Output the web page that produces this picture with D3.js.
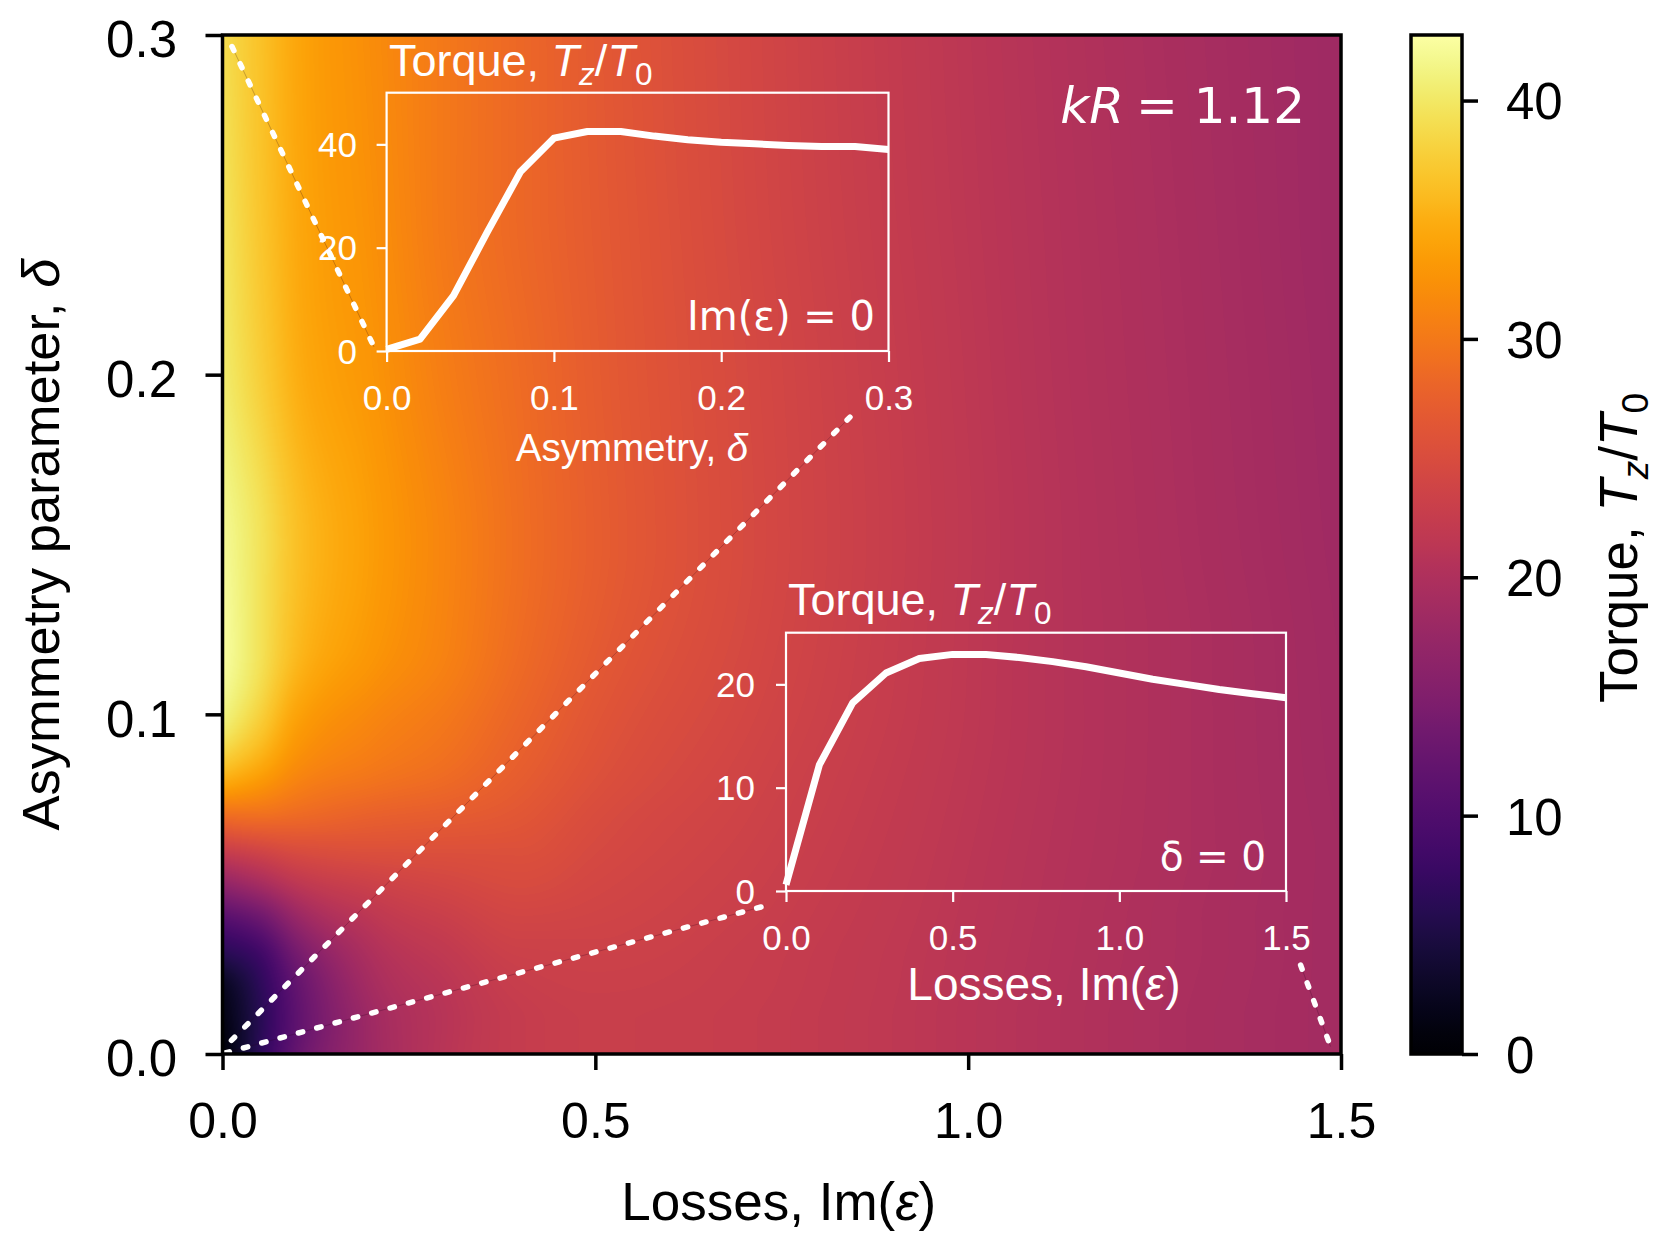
<!DOCTYPE html>
<html><head><meta charset="utf-8">
<script src="https://cdn.jsdelivr.net/npm/d3@7"></script>
<style>body{margin:0;background:#fff}svg{display:block}</style>
</head><body>
<script>
// ---------------- DATA ----------------
// Heat map grid: torque T_z/T_0 on losses Im(eps) (columns) x asymmetry delta (rows)
const imEps  = [0, 0.05, 0.1, 0.2, 0.3, 0.4, 0.5, 0.7, 0.9, 1.1, 1.3, 1.5];
const deltas = [0, 0.01, 0.02, 0.03, 0.04, 0.05, 0.06, 0.07, 0.08, 0.10, 0.12, 0.15, 0.20, 0.25, 0.30];
const torqueGrid = [
  [ 0.3,  6.4, 12.2, 18.2, 21.1, 22.5, 22.9, 22.6, 21.7,  20.5,  19.5, 18.7],
  [ 1.2,  6.0, 11.5, 18.3, 21.0, 22.5, 22.9, 22.6, 21.7,  20.5,  19.5, 18.7],
  [ 2.3,  6.5, 12.0, 19.0, 21.3, 22.8, 23.1, 22.7, 21.75, 20.55, 19.55, 18.7],
  [ 6.2,  8.5, 14.0, 20.0, 22.0, 23.3, 23.4, 22.8, 21.8,  20.6,  19.6, 18.7],
  [10.7, 13.0, 17.5, 21.5, 23.0, 24.0, 23.8, 23.0, 21.9,  20.65, 19.6, 18.7],
  [16.8, 19.0, 21.5, 23.3, 24.2, 24.8, 24.2, 23.2, 22.0,  20.7,  19.65, 18.7],
  [22.9, 24.0, 25.0, 25.5, 25.5, 25.5, 24.6, 23.4, 22.1,  20.75, 19.7, 18.7],
  [28.8, 29.0, 28.5, 27.5, 27.0, 26.3, 25.0, 23.6, 22.2,  20.8,  19.7, 18.65],
  [34.7, 33.0, 31.0, 29.5, 28.5, 27.0, 25.5, 23.8, 22.3,  20.85, 19.7, 18.6],
  [41.2, 38.0, 34.0, 31.5, 30.0, 28.0, 26.2, 24.2, 22.5,  20.9,  19.7, 18.55],
  [42.5, 39.5, 36.0, 33.0, 31.0, 28.7, 26.8, 24.5, 22.6,  20.9,  19.7, 18.5],
  [42.0, 39.5, 36.5, 33.5, 31.2, 29.0, 27.2, 24.7, 22.7,  20.9,  19.6, 18.4],
  [40.4, 37.8, 35.0, 32.8, 30.5, 28.7, 27.0, 24.6, 22.6,  20.8,  19.5, 18.3],
  [39.7, 37.0, 34.5, 32.3, 30.0, 28.3, 26.8, 24.4, 22.4,  20.7,  19.4, 18.2],
  [39.0, 36.7, 34.3, 32.0, 30.0, 28.3, 26.7, 24.3, 22.3,  20.6,  19.3, 18.2]
];
const colorMax = 42.75;

// Inset 1: Im(eps) = 0, torque vs asymmetry delta
const inset1Delta  = [0, 0.02, 0.04, 0.06, 0.08, 0.10, 0.12, 0.14, 0.16, 0.18, 0.20, 0.22, 0.24, 0.26, 0.28, 0.30];
const inset1Torque = [0.3, 2.3, 10.7, 22.9, 34.7, 41.2, 42.5, 42.5, 41.6, 40.9, 40.4, 40.1, 39.8, 39.6, 39.6, 39.0];

// Inset 2: delta = 0, torque vs losses Im(eps)
const inset2Loss   = [0, 0.1, 0.2, 0.3, 0.4, 0.5, 0.6, 0.7, 0.8, 0.9, 1.0, 1.1, 1.2, 1.3, 1.4, 1.5];
const inset2Torque = [0.6, 12.2, 18.2, 21.1, 22.5, 22.9, 22.9, 22.6, 22.2, 21.7, 21.1, 20.5, 20.0, 19.5, 19.1, 18.7];

// Tick labels
const mainXTicks = [0, 0.5, 1.0, 1.5];
const mainYTicks = [0, 0.1, 0.2, 0.3];
const cbarTicks  = [0, 10, 20, 30, 40];
const in1XTicks  = [0, 0.1, 0.2, 0.3];
const in1YTicks  = [0, 20, 40];
const in2XTicks  = [0, 0.5, 1.0, 1.5];
const in2YTicks  = [0, 10, 20];

// Dotted guide lines (main-plot data coords: [Im(eps), delta])
const guideLines = [
  [[0.0127, 0.2966], [0.2031, 0.2082]],
  [[0.0120, 0.0040], [0.8415, 0.1875]],
  [[0.0034, 0.0003], [0.7275, 0.0436]],
  [[1.4458, 0.0262], [1.4860, 0.0022]]
];

// ---------------- LAYOUT ----------------
const W = 1661, H = 1238;
const SANS = "'Liberation Sans', Arial, Helvetica, sans-serif";
const MATH = "'DejaVu Sans', sans-serif";
const P = {left: 222.5, right: 1341, top: 35, bottom: 1054};
const CB = {left: 1411, right: 1462};
const I1 = {left: 386.6, right: 888.5, top: 92.7, bottom: 351};
const I2 = {left: 786, right: 1286, top: 632.7, bottom: 891};

const svg = d3.select("body").append("svg").attr("width", W).attr("height", H)
  .style("font-family", SANS);

const x = d3.scaleLinear().domain([0, 1.5]).range([P.left, P.right]);
const y = d3.scaleLinear().domain([0, 0.3]).range([P.bottom, P.top]);
const color = d3.scaleSequential(d3.interpolateInferno).domain([0, colorMax]);

// monotone cubic interpolation (Steffen-style, like d3.curveMonotoneX)
function spline(xs, ys) {
  const n = xs.length, h = [], s = [], m = new Array(n);
  for (let i = 0; i < n - 1; i++) { h[i] = xs[i+1] - xs[i]; s[i] = (ys[i+1] - ys[i]) / h[i]; }
  for (let i = 1; i < n - 1; i++) {
    const p = (s[i-1] * h[i] + s[i] * h[i-1]) / (h[i-1] + h[i]);
    m[i] = (Math.sign(s[i-1]) + Math.sign(s[i])) *
           Math.min(Math.abs(s[i-1]), Math.abs(s[i]), 0.5 * Math.abs(p)) || 0;
  }
  m[0] = (3 * s[0] - m[1]) / 2;
  m[n-1] = (3 * s[n-2] - m[n-2]) / 2;
  return function(t) {
    let i = d3.bisectRight(xs, t) - 1;
    if (i < 0) i = 0; if (i > n - 2) i = n - 2;
    const hh = h[i], u = (t - xs[i]) / hh, u2 = u * u, u3 = u2 * u;
    return (2*u3 - 3*u2 + 1) * ys[i] + (u3 - 2*u2 + u) * hh * m[i] +
           (-2*u3 + 3*u2) * ys[i+1] + (u3 - u2) * hh * m[i+1];
  };
}

// ---------------- HEATMAP ----------------
(function drawHeat() {
  const cw = Math.round(P.right - P.left), ch = Math.round(P.bottom - P.top);
  const canvas = document.createElement("canvas");
  canvas.width = cw; canvas.height = ch;
  const ctx = canvas.getContext("2d");
  const img = ctx.createImageData(cw, ch);
  const NL = 2048;
  const lut = d3.range(NL).map(i => d3.rgb(color(i / (NL - 1) * colorMax)));
  const colF = imEps.map((_, j) => spline(deltas, torqueGrid.map(r => r[j])));
  const sx = (P.right - P.left) / cw, sy = (P.bottom - P.top) / ch;
  for (let py = 0; py < ch; py++) {
    const d = y.invert(P.top + (py + 0.5) * sy);
    const rowF = spline(imEps, colF.map(f => f(d)));
    for (let px = 0; px < cw; px++) {
      const e = x.invert(P.left + (px + 0.5) * sx);
      let v = rowF(e);
      let k = Math.round(v / colorMax * (NL - 1));
      k = Math.max(0, Math.min(NL - 1, k));
      const c = lut[k], o = (py * cw + px) * 4;
      img.data[o] = c.r; img.data[o+1] = c.g; img.data[o+2] = c.b; img.data[o+3] = 255;
    }
  }
  ctx.putImageData(img, 0, 0);
  svg.append("image").attr("href", canvas.toDataURL())
    .attr("x", P.left).attr("y", P.top)
    .attr("width", P.right - P.left).attr("height", P.bottom - P.top)
    .attr("preserveAspectRatio", "none");
})();

// ---------------- GUIDE LINES ----------------
const gl = svg.append("g");
guideLines.forEach(l => {
  gl.append("line").attr("x1", x(l[0][0])).attr("y1", y(l[0][1]))
    .attr("x2", x(l[1][0])).attr("y2", y(l[1][1]))
    .attr("stroke", "rgba(40,0,30,0.35)").attr("stroke-width", 0.7);
  gl.append("line").attr("x1", x(l[0][0])).attr("y1", y(l[0][1]))
    .attr("x2", x(l[1][0])).attr("y2", y(l[1][1]))
    .attr("stroke", "#fff").attr("stroke-width", 5.5)
    .attr("stroke-linecap", "round").attr("stroke-dasharray", "4.5,14.5");
});

// ---------------- MAIN AXES ----------------
function styleAxis(g, col, fs, sw) {
  g.select(".domain").remove();
  g.selectAll(".tick line").attr("stroke", col).attr("stroke-width", sw);
  g.selectAll(".tick text").attr("fill", col).attr("font-size", fs).attr("font-family", SANS);
}
const fmt1 = d3.format(".1f");
const gx = svg.append("g").attr("transform", `translate(0,${P.bottom})`)
  .call(d3.axisBottom(x).tickValues(mainXTicks).tickFormat(fmt1).tickSize(16).tickPadding(32.5));
styleAxis(gx, "#000", 50, 3.5);
const gy = svg.append("g").attr("transform", `translate(${P.left},0)`)
  .call(d3.axisLeft(y).tickValues(mainYTicks).tickFormat(fmt1).tickSize(17).tickPadding(28.5));
styleAxis(gy, "#000", 51, 3.5);
gy.selectAll(".tick text").attr("dy", "0.43em");

svg.append("rect").attr("x", P.left).attr("y", P.top)
  .attr("width", P.right - P.left).attr("height", P.bottom - P.top)
  .attr("fill", "none").attr("stroke", "#000").attr("stroke-width", 3.5);

// axis titles
const xt = svg.append("text").attr("x", (P.left + P.right) / 2 - 3).attr("y", 1220)
  .attr("text-anchor", "middle").attr("font-size", 53);
xt.append("tspan").text("Losses, Im(");
xt.append("tspan").attr("font-style", "italic").text("ε");
xt.append("tspan").text(")");

const yt = svg.append("text").attr("transform", `translate(59,${(P.top + P.bottom) / 2}) rotate(-90)`)
  .attr("text-anchor", "middle").attr("font-size", 52.5);
yt.append("tspan").text("Asymmetry parameter, ");
yt.append("tspan").attr("font-style", "italic").text("δ");

// torque label helper
function torqueLabel(t, fs) {
  t.append("tspan").text("Torque, ");
  t.append("tspan").attr("font-style", "italic").text("T");
  t.append("tspan").attr("font-style", "italic").attr("font-size", fs * 0.7).attr("dy", fs * 0.2).text("z");
  t.append("tspan").attr("dy", -fs * 0.2).text("/");
  t.append("tspan").attr("font-style", "italic").text("T");
  t.append("tspan").attr("font-size", fs * 0.7).attr("dy", fs * 0.2).text("0");
}

// ---------------- COLORBAR ----------------
const cy = d3.scaleLinear().domain([0, colorMax]).range([P.bottom, P.top]);
const defs = svg.append("defs");
const grad = defs.append("linearGradient").attr("id", "cbgrad")
  .attr("x1", 0).attr("y1", 1).attr("x2", 0).attr("y2", 0);
d3.range(0, 1.0001, 0.02).forEach(t => {
  grad.append("stop").attr("offset", t).attr("stop-color", color(t * colorMax));
});
svg.append("rect").attr("x", CB.left).attr("y", cy(colorMax))
  .attr("width", CB.right - CB.left).attr("height", cy(0) - cy(colorMax))
  .attr("fill", "url(#cbgrad)").attr("stroke", "#000").attr("stroke-width", 3.5);
const gc = svg.append("g").attr("transform", `translate(${CB.right},0)`)
  .call(d3.axisRight(cy).tickValues(cbarTicks).tickFormat(d3.format("d")).tickSize(16).tickPadding(28));
styleAxis(gc, "#000", 51, 3.5);
gc.selectAll(".tick text").attr("dy", "0.36em");
const ct = svg.append("text").attr("transform", `translate(1637,548) rotate(-90)`)
  .attr("text-anchor", "middle").attr("font-size", 53);
torqueLabel(ct, 53);

// ---------------- INSETS ----------------
function inset(box, xDom, yDom, xTicks, yTicks, xs, ys, xPad, yPad, xFmt) {
  const ix = d3.scaleLinear().domain(xDom).range([box.left, box.right]);
  const iy = d3.scaleLinear().domain(yDom).range([box.bottom, box.top]);
  const g = svg.append("g");
  const ax = g.append("g").attr("transform", `translate(0,${box.bottom})`)
    .call(d3.axisBottom(ix).tickValues(xTicks).tickFormat(xFmt).tickSize(11).tickPadding(xPad));
  styleAxis(ax, "#fff", 35, 2.2);
  const ay = g.append("g").attr("transform", `translate(${box.left},0)`)
    .call(d3.axisLeft(iy).tickValues(yTicks).tickFormat(d3.format("d")).tickSize(10).tickPadding(yPad));
  styleAxis(ay, "#fff", 35, 2.2);
  ay.selectAll(".tick text").attr("dy", "0.35em");
  g.append("rect").attr("x", box.left).attr("y", box.top)
    .attr("width", box.right - box.left).attr("height", box.bottom - box.top)
    .attr("fill", "none").attr("stroke", "#fff").attr("stroke-width", 2.2);
  g.append("path").datum(xs.map((v, i) => [v, ys[i]]))
    .attr("d", d3.line().x(d => ix(d[0])).y(d => iy(d[1])))
    .attr("fill", "none").attr("stroke", "#fff").attr("stroke-width", 7)
    .attr("stroke-linejoin", "round");
  return g;
}

const g1 = inset(I1, [0, 0.3], [0, 50], in1XTicks, in1YTicks, inset1Delta, inset1Torque, 23.5, 19.6, fmt1);
const t1 = g1.append("text").attr("x", 389).attr("y", 76).attr("fill", "#fff").attr("font-size", 45);
torqueLabel(t1, 45);
g1.append("text").attr("x", 875).attr("y", 330).attr("text-anchor", "end")
  .attr("fill", "#fff").attr("font-size", 40).attr("font-family", MATH).text("Im(ε) = 0");
const a1 = g1.append("text").attr("x", 632).attr("y", 461).attr("text-anchor", "middle")
  .attr("fill", "#fff").attr("font-size", 38.5);
a1.append("tspan").text("Asymmetry, ");
a1.append("tspan").attr("font-style", "italic").text("δ");

const g2 = inset(I2, [0, 1.5], [0, 25], in2XTicks, in2YTicks, inset2Loss, inset2Torque, 23.5, 21, fmt1);
const t2 = g2.append("text").attr("x", 788).attr("y", 615).attr("fill", "#fff").attr("font-size", 45);
torqueLabel(t2, 45);
g2.append("text").attr("x", 1266).attr("y", 870).attr("text-anchor", "end")
  .attr("fill", "#fff").attr("font-size", 39).attr("font-family", MATH).text("δ = 0");
const a2 = g2.append("text").attr("x", 1044).attr("y", 1000).attr("text-anchor", "middle")
  .attr("fill", "#fff").attr("font-size", 46);
a2.append("tspan").text("Losses, Im(");
a2.append("tspan").attr("font-style", "italic").text("ε");
a2.append("tspan").text(")");

// kR label
const kr = svg.append("text").attr("x", 1305).attr("y", 123).attr("text-anchor", "end")
  .attr("fill", "#fff").attr("font-size", 50).attr("font-family", MATH);
kr.append("tspan").attr("font-style", "italic").text("kR");
kr.append("tspan").attr("dx", -4).text(" = 1.12");
</script>
</body></html>
